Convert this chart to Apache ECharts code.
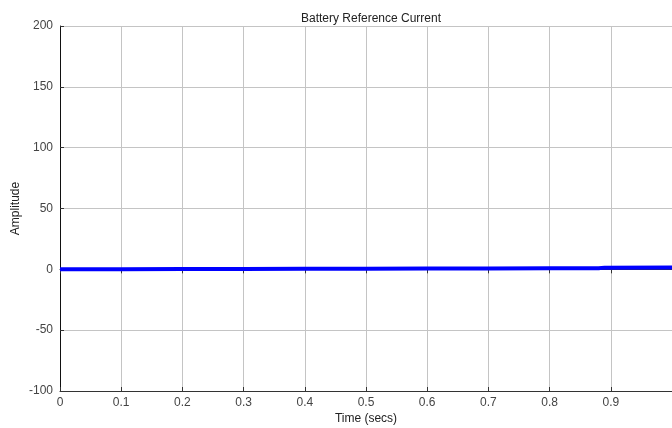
<!DOCTYPE html>
<html><head><meta charset="utf-8">
<script src="https://cdn.jsdelivr.net/npm/echarts@6/dist/echarts.min.js"></script>
<style>html,body{margin:0;padding:0;background:#fff}#c{width:672px;height:428px}</style>
</head><body><div id="c"></div>
<script>
const times = [0, 0.1, 0.2, 0.3, 0.4, 0.5, 0.6, 0.7, 0.8, 0.88, 0.89, 1.0];
const current = [0.0, 0.1, 0.2, 0.3, 0.4, 0.5, 0.6, 0.7, 0.8, 0.9, 1.4, 1.5];
const yTicks = [-100, -50, 0, 50, 100, 150, 200];
const xTicks = [0, 0.1, 0.2, 0.3, 0.4, 0.5, 0.6, 0.7, 0.8, 0.9, 1];

const chart = echarts.init(document.getElementById('c'));
const font = 'Liberation Sans, Arial, sans-serif';
const gridLine = {show: true, lineStyle: {color: '#c4c4c4', width: 1}};
chart.setOption({
  animation: false,
  title: {text: 'Battery Reference Current', left: 366, top: 8, textAlign: 'center',
    textStyle: {fontFamily: font, fontSize: 12, fontWeight: 'normal', color: '#222'}},
  grid: {left: 60, right: 0, top: 26, bottom: 37, containLabel: false, outerBoundsMode: 'none'},
  xAxis: [{
    type: 'value', min: xTicks[0], max: xTicks[xTicks.length - 1], interval: 0.1,
    name: 'Time (secs)', nameLocation: 'middle', nameGap: 22, nameMoveOverlap: false,
    nameTextStyle: {fontFamily: font, fontSize: 12, color: '#222'},
    axisLine: {show: true, onZero: false, lineStyle: {color: '#333'}},
    axisTick: {show: true, inside: true, length: 4, lineStyle: {color: '#333'}},
    axisLabel: {fontFamily: font, fontSize: 12, color: '#444', margin: 6, showMaxLabel: false},
    splitLine: gridLine
  }, {
    type: 'value', position: 'top', min: 0, max: 1, interval: 0.1,
    axisLine: {show: true, lineStyle: {color: '#333'}},
    axisTick: {show: true, inside: true, length: 4, lineStyle: {color: '#333'}},
    axisLabel: {show: false}, splitLine: {show: false}
  }],
  yAxis: [{
    type: 'value', min: yTicks[0], max: yTicks[yTicks.length - 1], interval: 50,
    name: 'Amplitude', nameLocation: 'middle', nameGap: 38, nameRotate: 90, nameMoveOverlap: false,
    nameTextStyle: {fontFamily: font, fontSize: 12, color: '#222'},
    axisLine: {show: true, onZero: false, lineStyle: {color: '#111'}},
    axisTick: {show: true, inside: true, length: 4, lineStyle: {color: '#333'}},
    axisLabel: {fontFamily: font, fontSize: 12, color: '#444', margin: 7},
    splitLine: gridLine
  }],
  series: [{
    type: 'line', xAxisIndex: 0, yAxisIndex: 0, showSymbol: false,
    data: times.map((t, i) => [t, current[i]]),
    lineStyle: {color: '#0000ff', width: 4}, z: 5
  }]
});
</script></body></html>
